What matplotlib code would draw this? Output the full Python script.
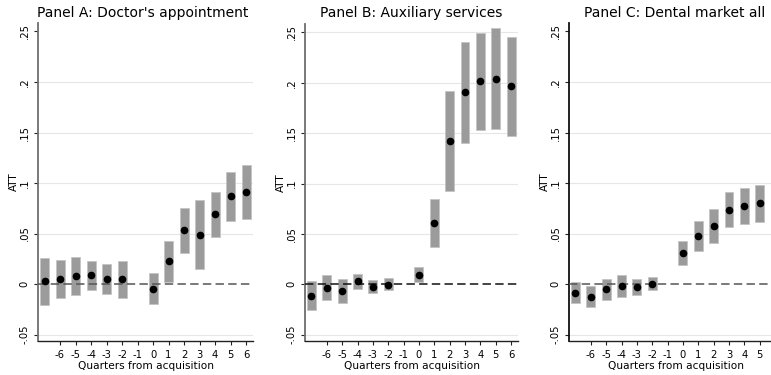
import numpy as np
import matplotlib
matplotlib.use("Agg")
import matplotlib.pyplot as plt

# event time in quarters relative to the acquisition (-1 is the omitted reference)
quarters = [-7, -6, -5, -4, -3, -2, 0, 1, 2, 3, 4, 5, 6]
tick_quarters = [-6, -5, -4, -3, -2, -1, 0, 1, 2, 3, 4, 5, 6]

# Panel A: doctor's appointment
att_a = [0.003, 0.005, 0.008, 0.0086, 0.005, 0.005, -0.0046, 0.0228, 0.053, 0.049, 0.069, 0.087, 0.091]
lo_a = [-0.021, -0.014, -0.011, -0.006, -0.010, -0.0135, -0.020, 0.002, 0.031, 0.0145, 0.047, 0.062, 0.064]
hi_a = [0.026, 0.024, 0.027, 0.023, 0.020, 0.023, 0.0106, 0.043, 0.075, 0.0835, 0.091, 0.1106, 0.1175]

# Panel B: auxiliary services
att_b = [-0.0116, -0.0033, -0.007, 0.0027, -0.0023, -0.0003, 0.0094, 0.061, 0.1425, 0.1904, 0.2014, 0.2037, 0.1964]
lo_b = [-0.026, -0.0153, -0.0186, -0.005, -0.0083, -0.006, 0.0017, 0.037, 0.0929, 0.140, 0.1535, 0.154, 0.1468]
hi_b = [0.003, 0.0087, 0.0047, 0.0104, 0.004, 0.0057, 0.0174, 0.085, 0.1917, 0.241, 0.249, 0.254, 0.245]

# Panel C: dental market all
att_c = [-0.0086, -0.0125, -0.005, -0.0017, -0.003, 0.0003, 0.0307, 0.0478, 0.0574, 0.0736, 0.0775, 0.080, 0.079]
lo_c = [-0.019, -0.0228, -0.0155, -0.0125, -0.011, -0.0063, 0.0188, 0.0324, 0.0403, 0.0564, 0.0597, 0.0617, 0.056]
hi_c = [0.002, -0.0023, 0.0053, 0.0086, 0.005, 0.007, 0.043, 0.0627, 0.0743, 0.0908, 0.095, 0.0983, 0.099]

yticks = [-0.05, 0, 0.05, 0.1, 0.15, 0.2, 0.25]
ytick_labels = ["-.05", "0", ".05", ".1", ".15", ".2", ".25"]

W, H = 771, 375
fig = plt.figure(figsize=(W / 100, H / 100), dpi=100)
plt.rcParams['font.family'] = ['DejaVu Sans']


def px_axes(left, top, right, bottom):
    return fig.add_axes([left / W, 1 - bottom / H, (right - left) / W, (bottom - top) / H])


def draw_panel(ax, att, lo, hi, title, title_x, spine_col, zero_col,
               grid_top=False, xticks=tick_quarters):
    x = np.array(quarters)
    lo = np.array(lo)
    hi = np.array(hi)
    ax.bar(x, hi - lo, bottom=lo, width=0.58, color='#9b9b9b',
           edgecolor='#c4c4c4', linewidth=0.6, zorder=2)
    ax.plot(x, att, 'o', color='black', markersize=4.5, zorder=4)
    ax.axhline(0, color=zero_col, linestyle=(0, (5.5, 2.8)), linewidth=1.1, zorder=3)

    ax.set_xlim(-7.42, 6.45)
    ax.set_ylim(-0.0564, 0.2584)
    ax.set_xticks(xticks)
    ax.set_xticklabels([str(q) for q in xticks], fontsize=7.2)
    ax.set_yticks(yticks)
    ax.set_yticklabels(ytick_labels, fontsize=7.2, rotation=90, va='center')

    grid_vals = yticks if grid_top else yticks[:-1]
    for g in grid_vals:
        if g != 0:
            ax.axhline(g, color='#e6e6e6', linewidth=0.8, zorder=0)

    for s in ['top', 'right']:
        ax.spines[s].set_visible(False)
    ax.spines['left'].set_color(spine_col)
    ax.spines['left'].set_linewidth(1.3)
    ax.spines['bottom'].set_color('#222222')
    ax.spines['bottom'].set_linewidth(1.0)
    ax.tick_params(axis='both', length=3.2, width=0.8, color='#222222', pad=3)

    ax.set_xlabel("Quarters from acquisition", fontsize=7.6, labelpad=1)
    ax.set_ylabel("ATT", fontsize=7.6)
    ax.yaxis.set_label_coords(-0.09, 0.5)
    fig.text(title_x / W, 1 - 13 / H, title, fontsize=10, ha='center', va='center')


ax_a = px_axes(38, 23, 253, 341)
draw_panel(ax_a, att_a, lo_a, hi_a, "Panel A: Doctor's appointment", 143, '#6e6e6e', '#555555')

ax_b = px_axes(305, 24, 518, 341)
draw_panel(ax_b, att_b, lo_b, hi_b, "Panel B: Auxiliary services", 411, '#6e6e6e', '#111111', grid_top=True)

# the last quarter of this panel runs past the right edge of the figure
ax_c = px_axes(569, 23, 782, 341)
draw_panel(ax_c, att_c, lo_c, hi_c, "Panel C: Dental market all", 675, '#111111', '#555555',
           xticks=tick_quarters[:-1])

fig.savefig("out.png", dpi=100)
